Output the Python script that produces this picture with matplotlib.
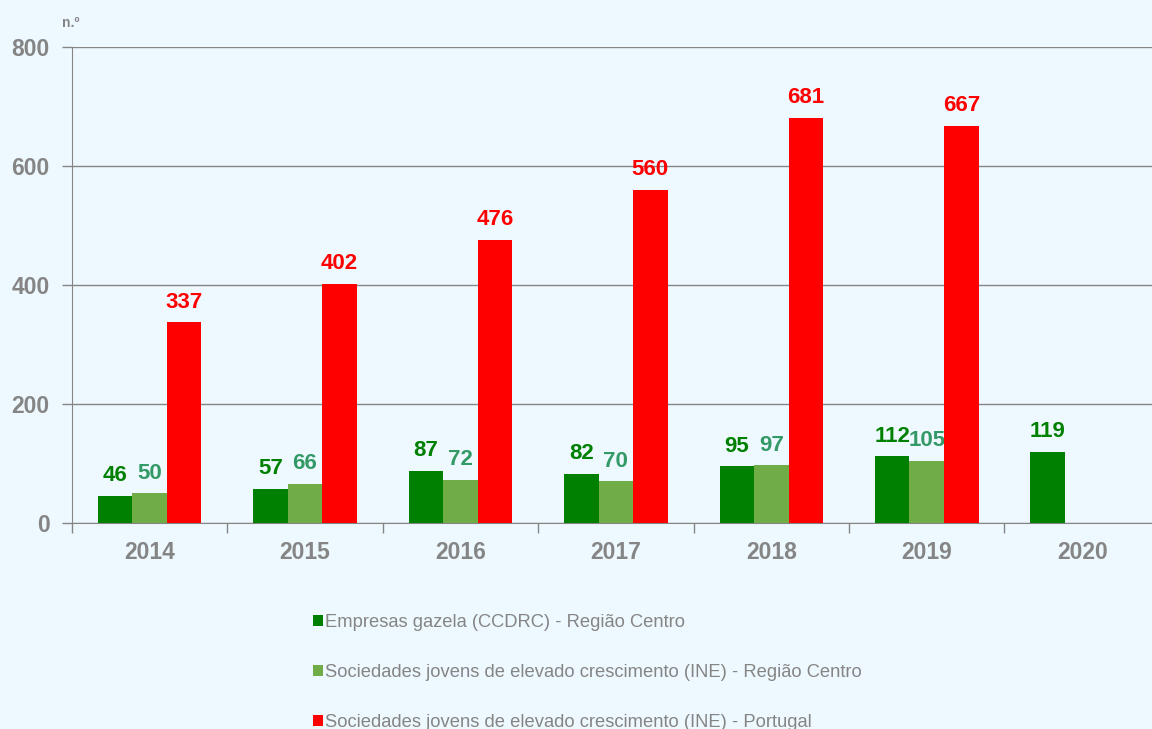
import numpy as np
import matplotlib
matplotlib.use("Agg")
from matplotlib import pyplot as plt

years = ["2014", "2015", "2016", "2017", "2018", "2019", "2020"]
gazela = [46, 57, 87, 82, 95, 112, 119]
ine_centro = [50, 66, 72, 70, 97, 105, np.nan]
ine_portugal = [337, 402, 476, 560, 681, 667, np.nan]

labels = ["Empresas gazela (CCDRC) - Região Centro",
          "Sociedades jovens de elevado crescimento (INE) - Região Centro",
          "Sociedades jovens de elevado crescimento (INE) - Portugal"]
bar_colors = ["#008000", "#70AD47", "#FF0000"]
text_colors = ["#008000", "#339966", "#FF0000"]

bg = "#EEF9FF"
grey = "#858585"

plt.rcParams["font.family"] = ["Liberation Sans", "DejaVu Sans"]

fig = plt.figure(figsize=(11.52, 7.29), dpi=100, facecolor=bg)
ax = fig.add_axes([0.0622, 0.2826, 0.9447, 0.653], facecolor=bg)

x = np.arange(len(years))
w = 0.222
series = [gazela, ine_centro, ine_portugal]
for i, (vals, col, tcol, lab) in enumerate(zip(series, bar_colors, text_colors, labels)):
    pos = x + (i - 1) * w
    ax.bar(pos, vals, w, color=col, label=lab, zorder=3)
    for p, v in zip(pos, vals):
        if np.isnan(v):
            continue
        ax.annotate(f"{v:.0f}", (p, v), xytext=(0, 7), textcoords="offset points",
                    ha="center", va="bottom", color=tcol, fontsize=16,
                    fontweight="bold")

ax.set_xlim(-0.5, len(years) - 0.5)
ax.set_ylim(0, 800)
ax.set_yticks([0, 200, 400, 600, 800])
ax.set_xticks(x)
ax.set_xticklabels(years)
ax.set_xticks(np.arange(len(years) + 1) - 0.5, minor=True)
ax.tick_params(axis="x", which="major", length=0, pad=13, labelsize=16.5,
               labelcolor=grey)
ax.tick_params(axis="x", which="minor", length=7, color=grey, width=1)
ax.tick_params(axis="y", length=7, color=grey, width=1, labelsize=16.5,
               labelcolor=grey, pad=9)
for t in ax.get_xticklabels() + ax.get_yticklabels():
    t.set_fontweight("bold")

ax.grid(axis="y", color=grey, linewidth=1, zorder=0)
for s in ["top", "right"]:
    ax.spines[s].set_visible(False)
ax.spines["left"].set_color(grey)
ax.spines["bottom"].set_color(grey)

fig.text(0.054, 0.969, "n.º", color=grey, fontsize=10, fontweight="bold",
         ha="left", va="center")

leg = fig.legend(loc="upper left", bbox_to_anchor=(0.272, 0.158), frameon=False,
                 fontsize=13.2, handlelength=0.5, handleheight=0.5,
                 handletextpad=0.15, labelspacing=1.8, borderaxespad=0,
                 borderpad=0)
for t in leg.get_texts():
    t.set_color(grey)

fig.savefig("out.png", dpi=100, facecolor=bg)
